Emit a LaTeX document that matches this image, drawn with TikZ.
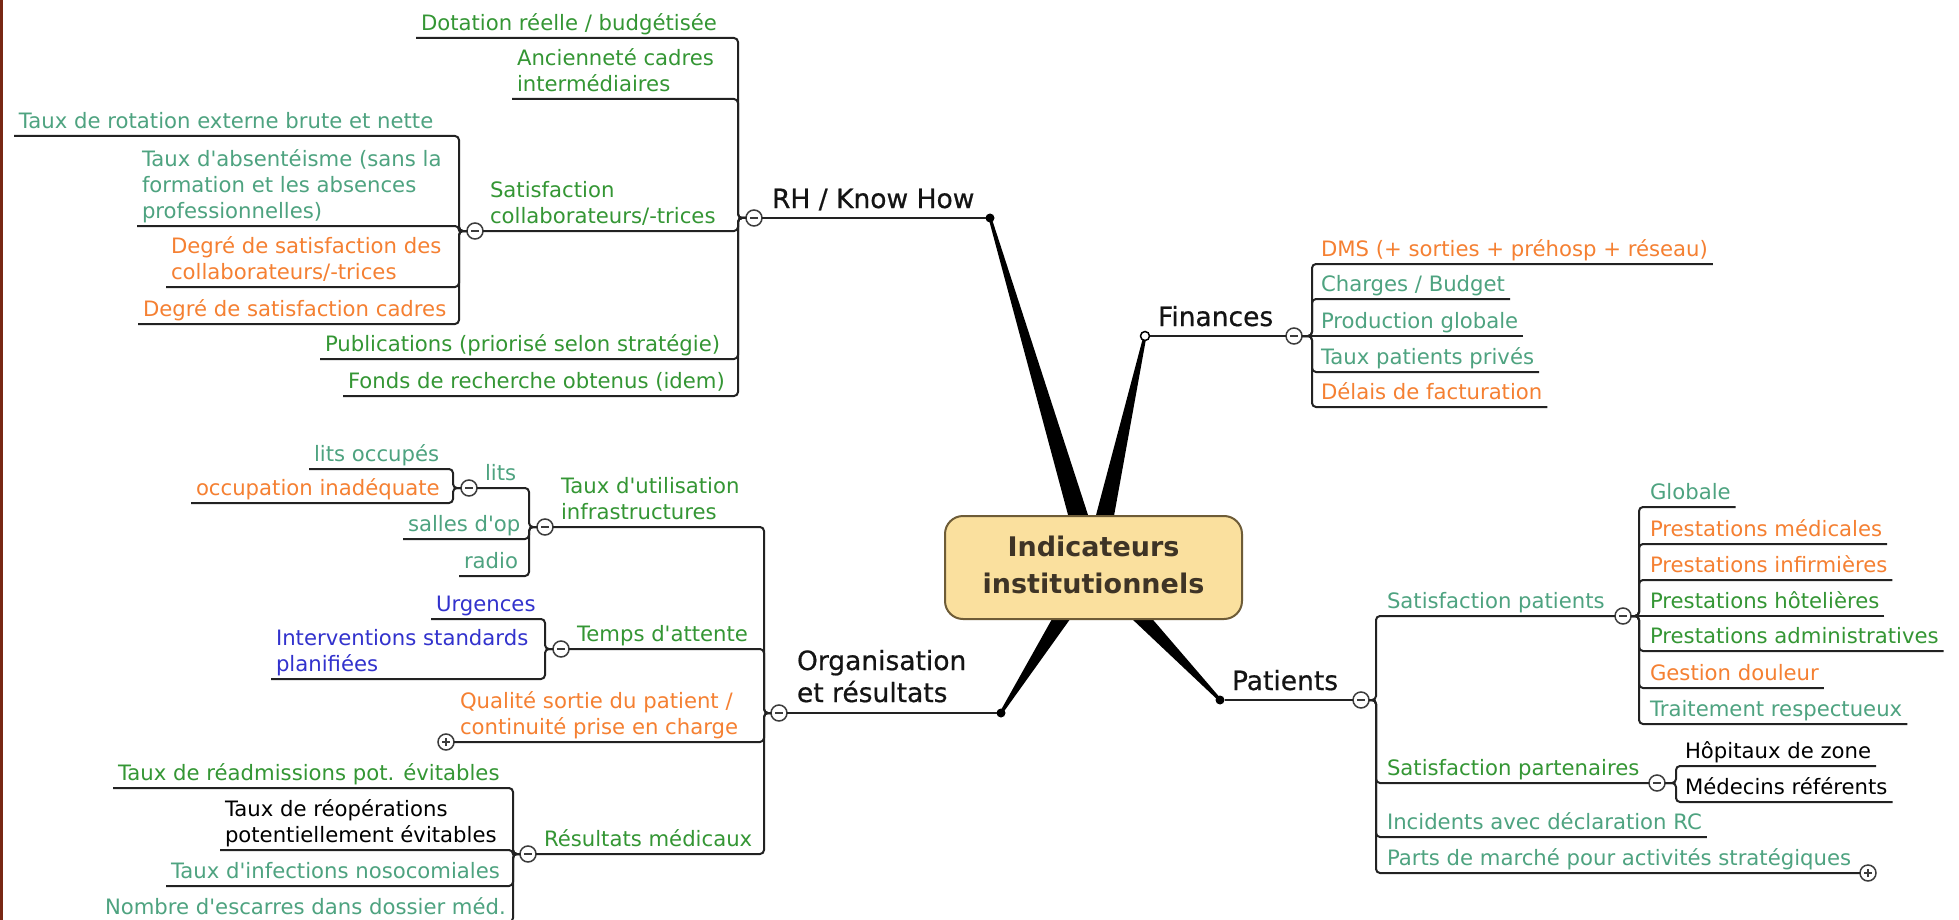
\documentclass[tikz,border=0pt]{standalone}
\usepackage{fontspec}
\setmainfont{DejaVu Sans}
\newfontfamily\topicfont{DejaVu Sans}[FakeBold=0.6]
\usetikzlibrary{calc}
\pgfdeclarelayer{back}
\pgfdeclarelayer{bg}
\pgfsetlayers{back,bg,main}
\definecolor{cgreen}{RGB}{52,150,52}
\definecolor{cteal}{RGB}{78,163,128}
\definecolor{corange}{RGB}{245,128,50}
\definecolor{cblue}{RGB}{50,50,205}
\definecolor{cline}{RGB}{34,34,34}
\definecolor{togc}{RGB}{60,60,60}
\definecolor{cfill}{RGB}{250,224,158}
\definecolor{cbord}{RGB}{110,92,55}
\definecolor{ctext}{RGB}{62,52,38}
\definecolor{cbrown}{RGB}{120,40,20}
\newcommand{\mlines}[1]{\begin{tabular}[b]{@{}l@{}}#1\end{tabular}}
\newcommand{\aq}{\textquotesingle}
% left-side leaf: name, colour, text left x, underline y, bracket x, parent, text
\newcommand{\Lleaf}[7]{%
  \node[leaf,text=#2] (#1) at (#3-5,#4) {\mlines{#7}};
  \draw[conn] (#1.south west) -- (#5,#4) -- (#5,#4 |- #6) -- (#6);
}
% right-side leaf
\newcommand{\Rleaf}[7]{%
  \node[leaf,text=#2] (#1) at (#3-5,#4) {\mlines{#7}};
  \draw[conn] (#1.south east) -- (#5,#4) -- (#5,#4 |- #6) -- (#6);
}
\begin{document}
\begin{tikzpicture}[x=1pt,y=-1pt,
  leaf/.style={inner xsep=5pt, inner ysep=0pt, outer sep=0pt, anchor=south west,
    font=\fontsize{21.2}{26}\selectfont},
  topic/.style={inner sep=0pt, outer sep=0pt, anchor=base west, text=black!92,
    font=\topicfont\fontsize{26.5}{32}\selectfont},
  conn/.style={draw=cline, line width=2pt, rounded corners=4pt},
  togm/.style={circle, draw=togc, line width=1.5pt, fill=white, minimum size=16pt,
    inner sep=0pt, outer sep=0pt,
    path picture={\draw[togc, line width=1.5pt]
      ([xshift=-4pt]path picture bounding box.center) -- ([xshift=4pt]path picture bounding box.center);}},
  togp/.style={circle, draw=togc, line width=1.5pt, fill=white, minimum size=16pt,
    inner sep=0pt, outer sep=0pt,
    path picture={\draw[togc, line width=1.5pt]
      ([xshift=-4pt]path picture bounding box.center) -- ([xshift=4pt]path picture bounding box.center)
      ([yshift=-4pt]path picture bounding box.center) -- ([yshift=4pt]path picture bounding box.center);}},
  dotf/.style={circle, fill=black, minimum size=9pt, inner sep=0pt, outer sep=0pt},
  dotw/.style={circle, draw=black, fill=white, line width=1.5pt, minimum size=9pt, inner sep=0pt, outer sep=0pt},
  wedge/.style={fill=black}
]
\useasboundingbox (0,0) rectangle (1959,920);
\begin{pgfonlayer}{back}
\fill[white] (0,0) rectangle (1959,920);
\fill[cbrown] (0,0) rectangle (2.5,920);
\end{pgfonlayer}

% ---------- central node ----------
\node[draw=cbord, fill=cfill, line width=2pt, rounded corners=18pt,
  minimum width=297pt, minimum height=103pt, inner sep=0pt, text=ctext,
  font=\bfseries\fontsize{27}{37}\selectfont] (ctr) at (1093.5,567.5)
  {\begin{tabular}{@{}c@{}}Indicateurs\\institutionnels\end{tabular}};

% ---------- RH / Know How ----------
\node[togm] (rhc) at (754,218) {};
\node[dotf] (rhd) at (990,218) {};
\node[topic] (rh) at (772,208) {RH / Know How};
\draw[conn] (rhc) -- (rhd);
\Lleaf{dot}{cgreen}{421}{38}{738}{rhc}{Dotation réelle / budgétisée}
\Lleaf{anc}{cgreen}{517}{99}{738}{rhc}{Ancienneté cadres\\intermédiaires}
\node[togm] (satc) at (475,231) {};
\node[leaf,text=cgreen] (sat) at (490-5,231) {\mlines{Satisfaction\\collaborateurs/-trices}};
\draw[conn] (satc) -- (738,231) -- (738,231 |- rhc) -- (rhc);
\Lleaf{pub}{cgreen}{325}{359}{738}{rhc}{Publications (priorisé selon stratégie)}
\Lleaf{fon}{cgreen}{348}{396}{738}{rhc}{Fonds de recherche obtenus (idem)}
\Lleaf{rot}{cteal}{19}{136}{459}{satc}{Taux de rotation externe brute et nette}
\Lleaf{abs}{cteal}{142}{226}{459}{satc}{Taux d\aq absentéisme (sans la\\formation et les absences\\professionnelles)}
\Lleaf{dsc}{corange}{171}{287}{459}{satc}{Degré de satisfaction des\\collaborateurs/-trices}
\Lleaf{dsk}{corange}{143}{324}{459}{satc}{Degré de satisfaction cadres}

% ---------- Organisation et résultats ----------
\node[togm] (orgc) at (779,713) {};
\node[dotf] (orgd) at (1001,713) {};
\node[topic] (org) at (797,702) {\mlines{Organisation\\et résultats}};
\draw[conn] (orgc) -- (orgd);
\node[togm] (tuc) at (545,527) {};
\node[leaf,text=cgreen] (tu) at (561-5,527) {\mlines{Taux d\aq utilisation\\infrastructures}};
\draw[conn] (tuc) -- (764,527) -- (764,527 |- orgc) -- (orgc);
\node[togm] (tac) at (561,649) {};
\node[leaf,text=cgreen] (ta) at (577-5,649) {\mlines{Temps d\aq attente}};
\draw[conn] (tac) -- (764,649) -- (764,649 |- orgc) -- (orgc);
\node[togp] (qsc) at (446,742) {};
\node[leaf,text=corange] (qs) at (460-5,742) {\mlines{Qualité sortie du patient /\\continuité prise en charge}};
\draw[conn] (qsc) -- (764,742) -- (764,742 |- orgc) -- (orgc);
\node[togm] (rmc) at (528,854) {};
\node[leaf,text=cgreen] (rm) at (544-5,854) {\mlines{Résultats médicaux}};
\draw[conn] (rmc) -- (764,854) -- (764,854 |- orgc) -- (orgc);
% infrastructures
\node[togm] (litc) at (469,488) {};
\node[leaf,text=cteal] (lit) at (485-5,488) {\mlines{lits}};
\draw[conn] (litc) -- (529,488) -- (529,488 |- tuc) -- (tuc);
\Lleaf{sal}{cteal}{408}{539}{529}{tuc}{salles d\aq op}
\Lleaf{rad}{cteal}{464}{576}{529}{tuc}{radio}
\Lleaf{lo}{cteal}{314}{469}{453}{litc}{lits occupés}
\Lleaf{oi}{corange}{196}{503}{453}{litc}{occupation inadéquate}
% temps d'attente
\Lleaf{urg}{cblue}{436}{619}{545}{tac}{Urgences}
\Lleaf{ist}{cblue}{276}{679}{545}{tac}{Interventions standards\\planifiées}
% résultats médicaux
\Lleaf{rea}{cgreen}{118}{788}{513}{rmc}{Taux de réadmissions pot. évitables}
\Lleaf{reo}{black}{225}{850}{513}{rmc}{Taux de réopérations\\potentiellement évitables}
\Lleaf{inf}{cteal}{171}{886}{513}{rmc}{Taux d\aq infections nosocomiales}
\Lleaf{esc}{cteal}{105}{922}{513}{rmc}{Nombre d\aq escarres dans dossier méd.}

% ---------- Finances ----------
\node[dotw] (find) at (1145,336) {};
\node[togm] (finc) at (1294,336) {};
\node[topic] (fin) at (1158,326) {Finances};
\draw[conn] (find) -- (finc);
\Rleaf{dms}{corange}{1321}{264}{1312}{finc}{DMS (+ sorties + préhosp + réseau)}
\Rleaf{chb}{cteal}{1321}{299}{1312}{finc}{Charges / Budget}
\node[leaf,text=cteal] (prg) at (1321-5,336) {\mlines{Production globale}};
\draw[conn] (prg.south east) -- (finc);
\Rleaf{tpp}{cteal}{1321}{372}{1312}{finc}{Taux patients privés}
\Rleaf{dfa}{corange}{1321}{407}{1312}{finc}{Délais de facturation}

% ---------- Patients ----------
\node[dotf] (patd) at (1220,700) {};
\node[togm] (patc) at (1361,700) {};
\node[topic] (pat) at (1232,690) {Patients};
\draw[conn] (patd) -- (patc);
\node[togm] (spc) at (1623,616) {};
\node[leaf,text=cteal] (sp) at (1387-5,616) {\mlines{Satisfaction patients}};
\draw[conn] (spc) -- (1376,616) -- (1376,616 |- patc) -- (patc);
\node[togm] (sprc) at (1657,783) {};
\node[leaf,text=cgreen] (spr) at (1387-5,783) {\mlines{Satisfaction partenaires}};
\draw[conn] (sprc) -- (1376,783) -- (1376,783 |- patc) -- (patc);
\Rleaf{inc}{cteal}{1387}{837}{1376}{patc}{Incidents avec déclaration RC}
\node[togp] (pmc) at (1868,873) {};
\node[leaf,text=cteal] (pm) at (1387-5,873) {\mlines{Parts de marché pour activités stratégiques}};
\draw[conn] (pmc) -- (1376,873) -- (1376,873 |- patc) -- (patc);
% satisfaction patients
\Rleaf{glo}{cteal}{1650}{507}{1639}{spc}{Globale}
\Rleaf{pme}{corange}{1650}{544}{1639}{spc}{Prestations médicales}
\Rleaf{pin}{corange}{1650}{580}{1639}{spc}{Prestations infirmières}
\node[leaf,text=cgreen] (pho) at (1650-5,616) {\mlines{Prestations hôtelières}};
\draw[conn] (pho.south east) -- (spc);
\Rleaf{pad}{cgreen}{1650}{651}{1639}{spc}{Prestations administratives}
\Rleaf{gdo}{corange}{1650}{688}{1639}{spc}{Gestion douleur}
\Rleaf{tre}{cteal}{1650}{724}{1639}{spc}{Traitement respectueux}
% partenaires
\Rleaf{hoz}{black}{1685}{766}{1676}{sprc}{Hôpitaux de zone}
\Rleaf{mer}{black}{1685}{802}{1676}{sprc}{Médecins référents}

% ---------- tapered connectors from the centre ----------
\begin{pgfonlayer}{bg}
\foreach \t in {rhd,find,orgd,patd}{
  \fill[wedge] ($(ctr.center)!11pt!90:(\t.center)$) -- ($(\t.center)!1.5pt!-90:(ctr.center)$)
    -- ($(\t.center)!1.5pt!90:(ctr.center)$) -- ($(ctr.center)!11pt!-90:(\t.center)$) -- cycle;
}
\end{pgfonlayer}
\end{tikzpicture}
\end{document}
